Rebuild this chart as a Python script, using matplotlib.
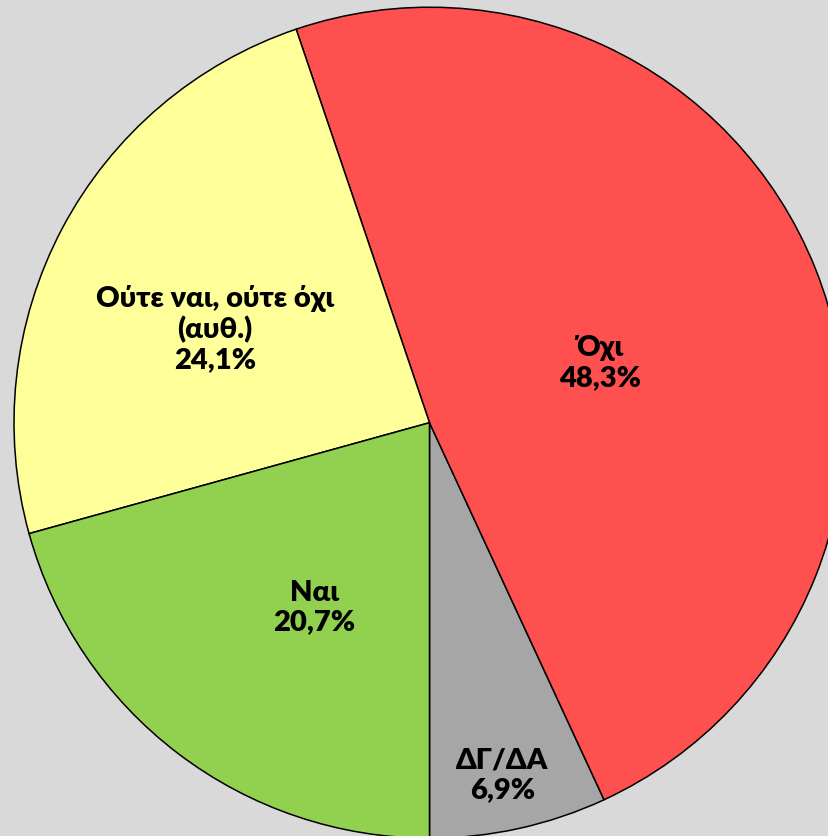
import matplotlib
matplotlib.use("Agg")
import matplotlib.pyplot as plt

categories = ["ΔΓ/ΔΑ", "Όχι", "Ούτε ναι, ούτε όχι\n(αυθ.)", "Ναι"]
values = [6.9, 48.3, 24.1, 20.7]
value_labels = ["6,9%", "48,3%", "24,1%", "20,7%"]
colors = ["#A6A6A6", "#FF5050", "#FFFF99", "#92D050"]

# label centre offsets (in pie-radius units)
label_pos = [(0.175, -0.848), (0.410, 0.143), (-0.516, 0.2255), (-0.277, -0.445)]

W, H = 829, 836
cx, cy, R = 429.5, 422.7, 415.5

fig = plt.figure(figsize=(W / 100, H / 100), dpi=100)
fig.patch.set_facecolor("#D9D9D9")
ax = fig.add_axes([0, 0, 1, 1])
ax.set_facecolor("#D9D9D9")

ax.pie(values, colors=colors, startangle=270, counterclock=True,
       radius=1.0, center=(0, 0),
       wedgeprops=dict(edgecolor="black", linewidth=1.1))

for cat, vl, (x, y) in zip(categories, value_labels, label_pos):
    ax.text(x, y, f"{cat}\n{vl}", ha="center", va="center",
            multialignment="center", fontsize=21, fontweight="heavy",
            family=["Lato", "DejaVu Sans"], linespacing=1.17, color="black")

ax.set_xlim(-cx / R, (W - cx) / R)
ax.set_ylim(-(H - cy) / R, cy / R)
ax.set_aspect("auto")
ax.axis("off")

fig.savefig("out.png", dpi=100, facecolor=fig.get_facecolor())
